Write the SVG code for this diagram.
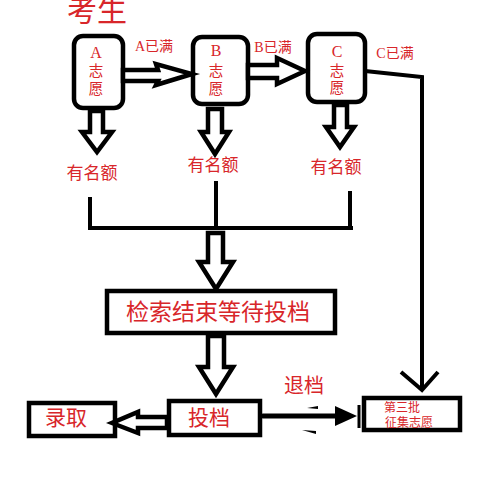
<svg xmlns="http://www.w3.org/2000/svg" width="480" height="480" viewBox="0 0 480 480">
<style>
.bg{fill:#fff}
.box{fill:#fff;stroke:#000;stroke-width:4.5}
.harrow{fill:#fff;stroke:#000;stroke-width:4.5;stroke-linejoin:miter}
.ln{fill:none;stroke:#000;stroke-width:4}
.t{fill:#d8262a;font-family:"Noto Sans CJK SC","Liberation Sans",sans-serif;text-anchor:middle}
.s{fill:#d8262a;font-family:"Liberation Serif","Noto Sans CJK SC",serif;text-anchor:middle}
</style>
<rect class="bg" x="0" y="0" width="480" height="480"/>
<text class="t" x="97" y="21" font-size="30" fill="#e8302a">考生</text>

<g id="nodeA">
<rect class="box" x="74" y="36" width="49" height="72" rx="9"/>
<text class="s" x="96" y="58" font-size="16">A</text>
<text class="t" x="96" y="76" font-size="14.5">志</text>
<text class="t" x="96" y="94" font-size="14.5">愿</text>
</g>
<g id="nodeB">
<rect class="box" x="193" y="37" width="55" height="67" rx="9"/>
<text class="s" x="216" y="56" font-size="16">B</text>
<text class="t" x="216" y="76" font-size="14.5">志</text>
<text class="t" x="216" y="94" font-size="14.5">愿</text>
</g>
<g id="nodeC">
<rect class="box" x="308" y="34" width="57" height="68" rx="9"/>
<text class="s" x="337" y="57" font-size="16">C</text>
<text class="t" x="337" y="76" font-size="14.5">志</text>
<text class="t" x="337" y="93" font-size="14.5">愿</text>
</g>

<g id="labels">
<text class="s" x="154" y="51" font-size="14">A已满</text>
<text class="s" x="273" y="52" font-size="14">B已满</text>
<text class="s" x="395" y="58" font-size="14">C已满</text>
<text class="t" x="92" y="179" font-size="17">有名额</text>
<text class="t" x="213" y="171" font-size="17">有名额</text>
<text class="t" x="336" y="173" font-size="17">有名额</text>
<text class="t" x="304" y="393" font-size="20">退档</text>
</g>

<g id="nodeWait">
<rect class="box" x="107" y="291" width="228" height="42"/>
<text class="t" x="218" y="320" font-size="23">检索结束等待投档</text>
</g>
<g id="nodeTou">
<rect class="box" x="169" y="401" width="91" height="34"/>
<text class="t" x="209" y="425" font-size="21">投档</text>
</g>
<g id="nodeLu">
<rect class="box" x="29" y="403" width="86" height="33"/>
<text class="t" x="66" y="425" font-size="21">录取</text>
</g>
<g id="nodeThird">
<rect class="box" x="364" y="398" width="96" height="32"/>
<text class="t" x="402" y="412" font-size="12">第三批</text>
<text class="t" x="409" y="427" font-size="12">征集志愿</text>
</g>

<g id="connectors">
<polygon class="harrow" points="123,70 158,70 156,64 192,74 156,85 158,81 123,81"/>
<polygon class="harrow" points="248,65 277,65 277,58 305,71 277,84 277,78 248,78"/>
<polygon class="harrow" points="90,111 103,111 103,132 112,132 97,152 82,132 90,132"/>
<polygon class="harrow" points="208,109 222,109 222,132 229,132 215,154 201,132 208,132"/>
<polygon class="harrow" points="334,105 347,105 347,127 354,127 340,147 326,127 334,127"/>
<polygon class="harrow" points="208,233 223,233 223,262 233,262 216,289 199,262 208,262"/>
<polygon class="harrow" points="208,336 224,336 224,367 233,367 216,394 199,367 208,367"/>
<polygon class="harrow" points="167,417 138,417 138,412 112,423 138,433 138,428 167,428"/>
<path class="ln" d="M90,197 V228 M216,181 V228 M350,191 V228 M88,228 H353"/>
<path class="ln" d="M365,71 L422,77 V390 M401,372 L422,390 L438,372"/>
<line x1="263" y1="416" x2="338" y2="416" stroke="#000" stroke-width="5" stroke-linecap="round"/>
<polygon points="335,406 357,416 335,426" fill="#000"/>
<line x1="359" y1="405" x2="359" y2="428" stroke="#000" stroke-width="3"/>
<polygon points="307,408 318,406 318,409" fill="#000"/>
<polygon points="302,430 316,431 316,434" fill="#000"/>
</g>
</svg>
